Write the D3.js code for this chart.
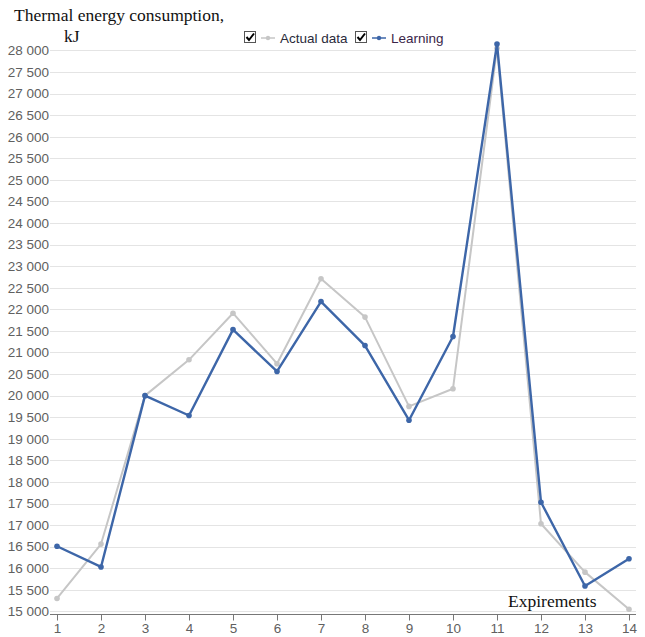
<!DOCTYPE html>
<html>
<head>
<meta charset="utf-8">
<script src="https://cdn.jsdelivr.net/npm/d3@7"></script>
<style>
  body { margin: 0; background: #fff; }
  svg { display: block; }
</style>
</head>
<body>
<div id="chart"></div>
<script>
// Data

const experiments = [1, 2, 3, 4, 5, 6, 7, 8, 9, 10, 11, 12, 13, 14];
const actualData = [15300, 16560, 20000, 20830, 21910, 20740, 22710, 21820, 19750, 20160, 28050, 17030, 15910, 15050];
const learning = [16510, 16030, 20000, 19540, 21530, 20560, 22180, 21160, 19430, 21370, 28150, 17530, 15590, 16220];
const yTicks = d3.range(15000, 28001, 500);

// Config

const width = 645;
const height = 637;
const grayColor = "#c6c6c6";
const blueColor = "#3d66a8";

const svg = d3.select("#chart")
  .append("svg")
  .attr("width", width)
  .attr("height", height);

// Scales

const xScale = d3.scaleLinear()
  .domain([1, 14])
  .range([57, 629]);

const yScale = d3.scaleLinear()
  .domain([15000, 28000])
  .range([611.4, 50.4]);

// Gridlines

svg.append("g")
  .selectAll("line")
  .data(yTicks)
  .join("line")
  .attr("x1", 50)
  .attr("x2", 636)
  .attr("y1", d => Math.round(yScale(d)) + 0.5)
  .attr("y2", d => Math.round(yScale(d)) + 0.5)
  .attr("stroke", "#e4e4e4")
  .attr("stroke-width", 1);

// Y axis labels

const yAxis = d3.axisLeft(yScale)
  .tickValues(yTicks)
  .tickSize(0)
  .tickPadding(0)
  .tickFormat(d => d3.format(",")(d).replace(",", " "));

const gy = svg.append("g")
  .attr("transform", "translate(49, 0)")
  .call(yAxis);

gy.select(".domain").remove();
gy.selectAll(".tick text")
  .attr("font-family", "Arial, 'Liberation Sans', sans-serif")
  .attr("font-size", 13.5)
  .attr("fill", "#606060");

// X axis

const xAxis = d3.axisBottom(xScale)
  .tickValues(experiments)
  .tickSize(6)
  .tickPadding(3)
  .tickSizeOuter(0);

const gx = svg.append("g")
  .attr("transform", "translate(0, 614.5)")
  .call(xAxis);

gx.select(".domain")
  .attr("d", "M50,0H636")
  .attr("stroke", "#777");
gx.selectAll(".tick line").attr("stroke", "#777");
gx.selectAll(".tick text")
  .attr("font-family", "Arial, 'Liberation Sans', sans-serif")
  .attr("font-size", 13.5)
  .attr("fill", "#606060");

// "Expirements" label with white backing

svg.append("rect")
  .attr("x", 505)
  .attr("y", 592)
  .attr("width", 96)
  .attr("height", 18)
  .attr("fill", "#fff");

svg.append("text")
  .attr("x", 508)
  .attr("y", 607)
  .attr("font-family", "'Times New Roman', 'Liberation Serif', serif")
  .attr("font-size", 17.5)
  .attr("fill", "#111")
  .text("Expirements");

// Lines

const line = d3.line()
  .x((d, i) => xScale(experiments[i]))
  .y(d => yScale(d));

const series = [
  { name: "Actual data", values: actualData, color: grayColor, width: 2 },
  { name: "Learning", values: learning, color: blueColor, width: 2.4 }
];

series.forEach(s => {
  svg.append("path")
    .datum(s.values)
    .attr("d", line)
    .attr("fill", "none")
    .attr("stroke", s.color)
    .attr("stroke-width", s.width)
    .attr("stroke-linejoin", "round");

  svg.append("g")
    .selectAll("circle")
    .data(s.values)
    .join("circle")
    .attr("cx", (d, i) => xScale(experiments[i]))
    .attr("cy", d => yScale(d))
    .attr("r", 2.8)
    .attr("fill", s.color);
});

// Title

svg.append("text")
  .attr("x", 14)
  .attr("y", 21)
  .attr("font-family", "'Times New Roman', 'Liberation Serif', serif")
  .attr("font-size", 17.5)
  .attr("fill", "#111")
  .text("Thermal energy consumption,");

svg.append("text")
  .attr("x", 64)
  .attr("y", 42)
  .attr("font-family", "'Times New Roman', 'Liberation Serif', serif")
  .attr("font-size", 17.5)
  .attr("fill", "#111")
  .text("kJ");

// Legend

const legendItems = [
  { x: 244, label: "Actual data", color: grayColor, textColor: "#2a2a3a" },
  { x: 355, label: "Learning", color: blueColor, textColor: "#3a2448" }
];

const legend = svg.append("g")
  .selectAll("g")
  .data(legendItems)
  .join("g")
  .attr("transform", d => `translate(${d.x}, 31)`);

legend.append("rect")
  .attr("x", 0.5)
  .attr("y", 0.5)
  .attr("width", 11)
  .attr("height", 11)
  .attr("fill", "#fff")
  .attr("stroke", "#555");

legend.append("path")
  .attr("d", "M2.5,6 L5,9 L10,2.5")
  .attr("fill", "none")
  .attr("stroke", "#000")
  .attr("stroke-width", 2);

legend.append("line")
  .attr("x1", 17)
  .attr("x2", 31)
  .attr("y1", 7)
  .attr("y2", 7)
  .attr("stroke", d => d.color)
  .attr("stroke-width", 1.5);

legend.append("circle")
  .attr("cx", 24)
  .attr("cy", 7)
  .attr("r", 2.2)
  .attr("fill", d => d.color);

legend.append("text")
  .attr("x", 36)
  .attr("y", 12)
  .attr("font-family", "Arial, 'Liberation Sans', sans-serif")
  .attr("font-size", 13.5)
  .attr("fill", d => d.textColor)
  .text(d => d.label);
</script>
</body>
</html>
